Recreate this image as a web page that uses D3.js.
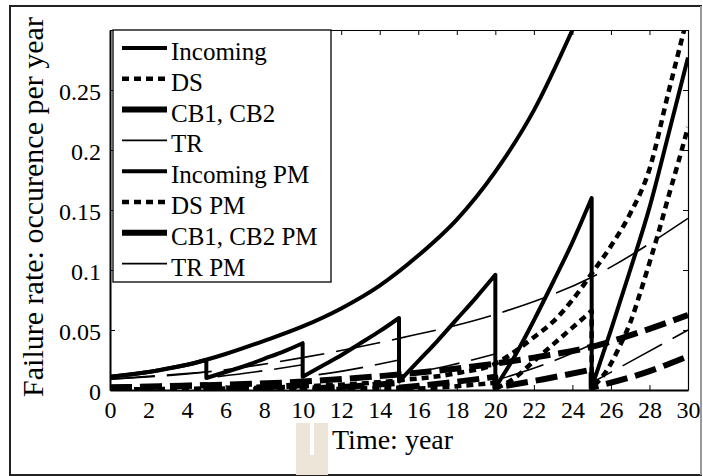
<!DOCTYPE html>
<html>
<head>
<meta charset="utf-8">
<script src="https://cdn.jsdelivr.net/npm/d3@7"></script>
<style>
body{margin:0;background:#fff}
</style>
</head>
<body>
<svg></svg>
<script>
//declare global variables
var screen = {width:703, height:476}
var margins = {top:30, bottom:86, left:110, right:15}
var serif = "'Liberation Serif', 'Times New Roman', serif"

//tick labels
var xTicks = [0,2,4,6,8,10,12,14,16,18,20,22,24,26,28,30]
var yTicks = [0,0.05,0.1,0.15,0.2,0.25]
var yTickLabels = ["0","0.05","0.1","0.15","0.2","0.25"]

//series values (years + failure rate), repeated year = PM reset
var incomingYears = [0,2,4,6,8,10,12,14,16,18,20,22,24]
var incomingRate = [0.011,0.015,0.021,0.030,0.041,0.053,0.068,0.087,0.112,0.142,0.182,0.233,0.300]

var dsYears = [0,5,10,15,18,20,21,22,23,24,25,26,27,28,29,29.8]
var dsRate = [0.0005,0.001,0.003,0.008,0.014,0.022,0.032,0.044,0.057,0.075,0.097,0.12,0.147,0.184,0.249,0.3]

var cbYears = [0,5,10,15,20,22,25,28,30]
var cbRate = [0.002,0.004,0.007,0.013,0.022,0.027,0.036,0.051,0.0625]

var trYears = [0,5,10,15,20,25,30]
var trRate = [0.009,0.015,0.027,0.043,0.063,0.094,0.143]

var incomingPmYears = [0,1,2,3,4,5, 5,6,7,8,9,10, 10,11,12,13,14,15, 15,16,17,18,19,20, 20,21,22,23,24,25, 25,26,27,28,29,30]
var incomingPmRate = [0.011,0.013,0.015,0.018,0.021,0.025, 0.010,0.015,0.020,0.026,0.032,0.039, 0.011,0.020,0.029,0.039,0.049,0.060, 0.007,0.024,0.041,0.059,0.077,0.096, 0.002,0.028,0.058,0.090,0.123,0.160, 0.002,0.050,0.100,0.152,0.214,0.277]

var dsPmYears = [0,5, 5,10, 10,15, 15,17,20, 20,21,22,23,24,25, 25,25.5,26,26.5,27,27.5,28,28.5,29,29.5,30]
var dsPmRate = [0.0005,0.001, 0.0003,0.001, 0.0003,0.002, 0.0005,0.002,0.006, 0.001,0.010,0.024,0.038,0.052,0.066, 0.002,0.010,0.022,0.038,0.056,0.080,0.106,0.133,0.162,0.190,0.219]

var cbPmYears = [0,2.5,5, 5,7.5,10, 10,12.5,15, 15,17.5,20, 20,22.5,25, 25,27.5,30]
var cbPmRate = [0.002,0.003,0.004, 0.001,0.002,0.004, 0.001,0.003,0.006, 0.002,0.006,0.011, 0.002,0.009,0.017, 0.002,0.013,0.028]

var trPmYears = [0,2.5,5, 5,7.5,10, 10,12.5,15, 15,17.5,20, 20,22.5,25, 25,27.5,30]
var trPmRate = [0.009,0.012,0.015, 0.010,0.015,0.021, 0.011,0.017,0.025, 0.012,0.020,0.030, 0.008,0.021,0.038, 0.006,0.028,0.050]

var legendNames = ["Incoming","DS","CB1, CB2","TR","Incoming PM","DS PM","CB1, CB2 PM","TR PM"]

//line looks per equipment type
var looks = {
  incoming:{width:4, dash:null},
  ds:{width:4.5, dash:"7,5"},
  cb:{width:6, dash:"22,8"},
  tr:{width:1.6, dash:"45,12"}
}

var series = [
  {name:"CB1, CB2", look:"cb", years:cbYears, rate:cbRate},
  {name:"CB1, CB2 PM", look:"cb", years:cbPmYears, rate:cbPmRate},
  {name:"TR", look:"tr", years:trYears, rate:trRate},
  {name:"TR PM", look:"tr", years:trPmYears, rate:trPmRate},
  {name:"DS", look:"ds", years:dsYears, rate:dsRate},
  {name:"DS PM", look:"ds", years:dsPmYears, rate:dsPmRate},
  {name:"Incoming", look:"incoming", years:incomingYears, rate:incomingRate},
  {name:"Incoming PM", look:"incoming", years:incomingPmYears, rate:incomingPmRate}
]
var legendLooks = ["incoming","ds","cb","tr","incoming","ds","cb","tr"]

var svg = d3.select("svg")
  .attr("width", screen.width)
  .attr("height", screen.height)

var width = screen.width - margins.left - margins.right
var height = screen.height - margins.top - margins.bottom

//figure border
svg.append("rect").attr("x",10).attr("y",6).attr("width",691).attr("height",469)
  .attr("fill","none").attr("stroke","#222").attr("stroke-width",2)
svg.append("line").attr("x1",701).attr("x2",701).attr("y1",6).attr("y2",475)
  .attr("stroke","#999").attr("stroke-width",2)

//watermark scrap under the x label
svg.append("rect").attr("x",296).attr("y",423).attr("width",32).attr("height",52).attr("fill","#ece5d8")
svg.append("rect").attr("x",310).attr("y",423).attr("width",4).attr("height",32).attr("fill","#fff")

var graph = svg.append("g")
  .attr("id","graph")
  .attr("transform","translate("+margins.left+","+margins.top+")")

var xScale = d3.scaleLinear()
  .domain([0,30])
  .range([0,width])

var yScale = d3.scaleLinear()
  .domain([0,0.3])
  .range([height,0])

graph.append("clipPath").attr("id","plotclip")
  .append("rect").attr("width",width).attr("height",height)

//axes setup
var xAxis = d3.axisBottom(xScale).tickValues(xTicks).tickSizeInner(-5).tickSizeOuter(0).tickPadding(11)
var yAxis = d3.axisLeft(yScale).tickValues(yTicks).tickSizeInner(-5).tickSizeOuter(0).tickPadding(9)
  .tickFormat(function(d,i){return yTickLabels[i]})

var xg = graph.append("g").attr("id","xAxis").attr("transform","translate(0,"+height+")").call(xAxis)
var yg = graph.append("g").attr("id","yAxis").call(yAxis)
graph.append("g").attr("transform","translate(0,0)")
  .call(d3.axisTop(xScale).tickValues(xTicks).tickSizeInner(-5).tickSizeOuter(0).tickFormat(""))
graph.append("g").attr("transform","translate("+width+",0)")
  .call(d3.axisRight(yScale).tickValues(yTicks).tickSizeInner(-5).tickSizeOuter(0).tickFormat(""))

graph.selectAll(".domain").attr("stroke","#000").attr("stroke-width",1.2)
xg.select(".domain").attr("stroke-width",2)
yg.select(".domain").attr("stroke-width",2)
graph.selectAll(".tick line").attr("stroke","#000")
graph.selectAll("g").attr("font-family", serif)
xg.selectAll("text").style("font-family", serif).style("font-size","24px").attr("fill","#000")
yg.selectAll("text").style("font-family", serif).style("font-size","24px").attr("fill","#000").attr("dy","0.4em")

//lines: split at repeated years so each PM period is its own smooth piece
var line = d3.line()
  .x(function(d){return xScale(d[0])})
  .y(function(d){return yScale(d[1])})
  .curve(d3.curveMonotoneX)

function pathFor(s){
  var pieces = [], cur = []
  s.years.forEach(function(t,i){
    if(cur.length && t === cur[cur.length-1][0]){ pieces.push(cur); cur = [] }
    cur.push([t, s.rate[i]])
  })
  pieces.push(cur)
  return pieces.map(function(p,i){
    var d = line(p)
    return i === 0 ? d : "L" + d.slice(1)
  }).join("")
}

var plot = graph.append("g").attr("clip-path","url(#plotclip)")
plot.selectAll("path.series")
  .data(series)
  .enter()
  .append("path")
  .attr("class","series")
  .attr("d", pathFor)
  .attr("fill","none")
  .attr("stroke","#000")
  .attr("stroke-width", function(s){return looks[s.look].width})
  .attr("stroke-dasharray", function(s){return looks[s.look].dash})
  .attr("stroke-linejoin","round")

//legend
var legend = svg.append("g").attr("transform","translate(113,30)")
legend.append("rect").attr("width",218).attr("height",252)
  .attr("fill","#fff").attr("stroke","#000").attr("stroke-width",1.3)
var rows = legend.selectAll("g.row")
  .data(legendNames)
  .enter()
  .append("g")
  .attr("class","row")
  .attr("transform", function(d,i){return "translate(0,"+(18+i*30.8)+")"})
rows.append("line")
  .attr("x1",9).attr("x2",54)
  .attr("stroke","#000")
  .attr("stroke-width", function(d,i){return looks[legendLooks[i]].width})
  .attr("stroke-dasharray", function(d,i){return legendLooks[i]==="ds" ? "7,5" : null})
rows.append("text")
  .attr("x",58).attr("y",12)
  .style("font-family", serif)
  .style("font-size","25px")
  .text(function(d){return d})

//axis titles
svg.append("text")
  .attr("transform","translate(43,207) rotate(-90)")
  .attr("text-anchor","middle")
  .style("font-family", serif)
  .style("font-size","30px")
  .text("Failure rate: occurence per year")
svg.append("text")
  .attr("x",332).attr("y",449)
  .style("font-family", serif)
  .style("font-size","28px")
  .text("Time: year")
</script>
</body>
</html>
